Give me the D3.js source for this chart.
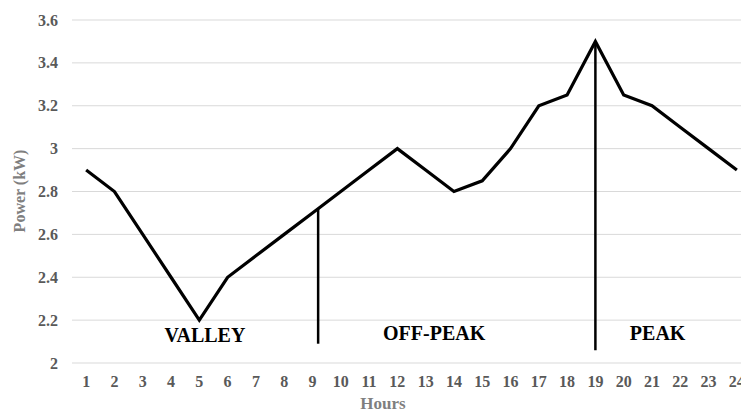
<!DOCTYPE html>
<html>
<head>
<meta charset="utf-8">
<script src="https://cdn.jsdelivr.net/npm/d3@7"></script>
<style>
  body { margin: 0; background: #fff; }
  svg { display: block; }
</style>
</head>
<body>
<div id="chart"></div>
<script>
const hours = d3.range(1, 25);
const power = [2.9, 2.8, 2.6, 2.4, 2.2, 2.4, 2.5, 2.6, 2.7, 2.8, 2.9, 3.0,
  2.9, 2.8, 2.85, 3.0, 3.2, 3.25, 3.5, 3.25, 3.2, 3.1, 3.0, 2.9];
const yTicks = [2, 2.2, 2.4, 2.6, 2.8, 3, 3.2, 3.4, 3.6];
// period boundaries: [hour, top value, bottom value]
const dividers = [[9.2, 2.72, 2.09], [19, 3.5, 2.06]];
const periods = [
  { name: "VALLEY", hour: 5.2, value: 2.13 },
  { name: "OFF-PEAK", hour: 13.3, value: 2.14 },
  { name: "PEAK", hour: 21.2, value: 2.14 },
];

const width = 741, height = 412;
const x = d3.scaleLinear().domain([0.5, 24.5]).range([72, 751]);
const y = d3.scaleLinear().domain([2, 3.6]).range([363, 20]);

const svg = d3.select("#chart").append("svg")
  .attr("width", width).attr("height", height);

const font = "'Liberation Serif', 'Times New Roman', serif";

// gridlines
svg.append("g")
  .selectAll("line")
  .data(yTicks)
  .join("line")
  .attr("x1", x.range()[0]).attr("x2", x.range()[1])
  .attr("y1", d => y(d)).attr("y2", d => y(d))
  .attr("stroke", "#d9d9d9").attr("stroke-width", 1);

// y tick labels
svg.append("g")
  .selectAll("text")
  .data(yTicks)
  .join("text")
  .attr("x", 58).attr("y", d => y(d))
  .attr("dy", "0.35em")
  .attr("text-anchor", "end")
  .attr("font-family", font).attr("font-weight", "bold")
  .attr("font-size", 16).attr("fill", "#595959")
  .text(d => d3.format("")(d));

// x tick labels
svg.append("g")
  .selectAll("text")
  .data(hours)
  .join("text")
  .attr("x", d => x(d)).attr("y", 381)
  .attr("dy", "0.35em")
  .attr("text-anchor", "middle")
  .attr("font-family", font).attr("font-weight", "bold")
  .attr("font-size", 16).attr("fill", "#595959")
  .text(d => d);

// axis titles
svg.append("text")
  .attr("x", 383).attr("y", 403).attr("dy", "0.35em")
  .attr("text-anchor", "middle")
  .attr("font-family", font).attr("font-weight", "bold")
  .attr("font-size", 17).attr("fill", "#7f7f7f")
  .text("Hours");

svg.append("text")
  .attr("transform", "translate(19,191) rotate(-90)")
  .attr("dy", "0.35em")
  .attr("text-anchor", "middle")
  .attr("font-family", font).attr("font-weight", "bold")
  .attr("font-size", 16).attr("fill", "#7f7f7f")
  .text("Power (kW)");

// period dividers
svg.append("g")
  .selectAll("line")
  .data(dividers)
  .join("line")
  .attr("x1", d => x(d[0])).attr("x2", d => x(d[0]))
  .attr("y1", d => y(d[1])).attr("y2", d => y(d[2]))
  .attr("stroke", "#000").attr("stroke-width", 2.5);

// power line
const line = d3.line()
  .x((d, i) => x(hours[i]))
  .y(d => y(d));

svg.append("path")
  .datum(power)
  .attr("d", line)
  .attr("fill", "none")
  .attr("stroke", "#000")
  .attr("stroke-width", 3.2)
  .attr("stroke-linejoin", "miter");

// period labels
svg.append("g")
  .selectAll("text")
  .data(periods)
  .join("text")
  .attr("x", d => x(d.hour)).attr("y", d => y(d.value))
  .attr("dy", "0.35em")
  .attr("text-anchor", "middle")
  .attr("font-family", font).attr("font-weight", "bold")
  .attr("font-size", 20).attr("fill", "#000")
  .text(d => d.name);
</script>
</body>
</html>
